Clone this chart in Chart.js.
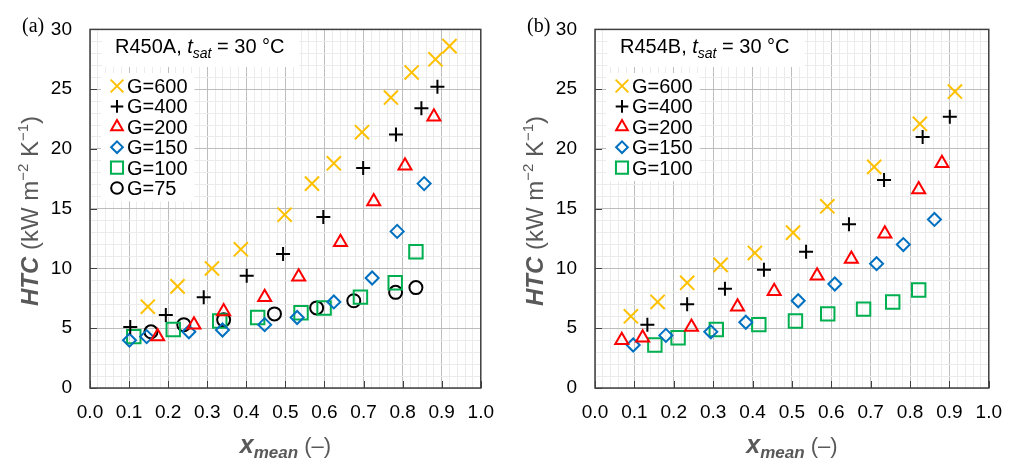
<!DOCTYPE html>
<html>
<head>
<meta charset="utf-8">
<script src="https://cdn.jsdelivr.net/npm/chart.js@4/dist/chart.umd.min.js"></script>
<style>
  body { margin: 0; background: #fff; }
  #wrap { position: relative; width: 1015px; height: 463px; }
  .pane { position: absolute; top: 0; }
</style>
</head>
<body>
<div id="wrap">
  <div class="pane" style="left:0"><canvas id="chartA" width="507" height="463"></canvas></div>
  <div class="pane" style="left:507px"><canvas id="chartB" width="508" height="463"></canvas></div>
</div>
<script>
// (a) R450A
const xA600 = [0.148, 0.224, 0.312, 0.386, 0.498, 0.568, 0.624, 0.696, 0.770, 0.823, 0.884, 0.920];
const yA600 = [6.8, 8.5, 10.0, 11.6, 14.5, 17.1, 18.8, 21.4, 24.3, 26.4, 27.5, 28.6];
const xA400 = [0.103, 0.194, 0.291, 0.401, 0.494, 0.597, 0.699, 0.783, 0.848, 0.889];
const yA400 = [5.1, 6.1, 7.6, 9.4, 11.2, 14.3, 18.4, 21.2, 23.4, 25.2];
const xA200 = [0.173, 0.266, 0.342, 0.447, 0.534, 0.641, 0.726, 0.806, 0.880];
const yA200 = [4.3, 5.3, 6.4, 7.6, 9.3, 12.2, 15.6, 18.6, 22.7];
const xA150 = [0.101, 0.145, 0.253, 0.339, 0.447, 0.530, 0.624, 0.722, 0.786, 0.855];
const yA150 = [4.0, 4.3, 4.7, 4.85, 5.3, 5.9, 7.2, 9.2, 13.1, 17.1];
const xA100 = [0.112, 0.213, 0.332, 0.429, 0.540, 0.599, 0.692, 0.781, 0.834];
const yA100 = [4.3, 4.9, 5.6, 5.9, 6.3, 6.7, 7.6, 8.8, 11.4];
const xA75 = [0.156, 0.240, 0.342, 0.472, 0.580, 0.675, 0.782, 0.834];
const yA75 = [4.7, 5.3, 5.7, 6.2, 6.7, 7.3, 8.0, 8.4];

// (b) R454B
const xB600 = [0.091, 0.159, 0.234, 0.319, 0.406, 0.503, 0.590, 0.709, 0.825, 0.914];
const yB600 = [6.0, 7.2, 8.8, 10.3, 11.3, 13.0, 15.2, 18.5, 22.1, 24.8];
const xB400 = [0.133, 0.234, 0.330, 0.429, 0.536, 0.645, 0.734, 0.832, 0.901];
const yB400 = [5.3, 7.0, 8.3, 9.9, 11.4, 13.7, 17.4, 21.0, 22.7];
const xB200 = [0.068, 0.121, 0.245, 0.362, 0.455, 0.564, 0.651, 0.736, 0.822, 0.881];
const yB200 = [4.0, 4.2, 5.1, 6.8, 8.1, 9.4, 10.8, 12.9, 16.6, 18.8];
const xB150 = [0.097, 0.180, 0.294, 0.383, 0.516, 0.609, 0.715, 0.783, 0.862];
const yB150 = [3.6, 4.4, 4.7, 5.5, 7.3, 8.7, 10.4, 12.0, 14.1];
const xB100 = [0.152, 0.211, 0.308, 0.416, 0.509, 0.591, 0.682, 0.756, 0.822];
const yB100 = [3.6, 4.2, 4.9, 5.3, 5.6, 6.2, 6.6, 7.2, 8.2];

const xTicks = [0, 0.1, 0.2, 0.3, 0.4, 0.5, 0.6, 0.7, 0.8, 0.9, 1.0];
const yTicks = [0, 5, 10, 15, 20, 25, 30];

const FONT = '"Liberation Sans", Arial, sans-serif';

// marker styles per mass flux
const styles = {
    'G=600': { pointStyle: 'crossRot', radius: 10, color: '#FFC000' },
    'G=400': { pointStyle: 'cross', radius: 7, color: '#000000' },
    'G=200': { pointStyle: 'triangle', radius: 7.5, color: '#FF0000' },
    'G=150': { pointStyle: 'rectRot', radius: 6.5, color: '#0070C0' },
    'G=100': { pointStyle: 'rect', radius: 9.5, color: '#00B050' },
    'G=75': { pointStyle: 'circle', radius: 6.5, color: '#000000' }
};

function pts(xs, ys) {
    return xs.map((x, i) => ({ x: x, y: ys[i] }));
}

function makeDataset(label, xs, ys) {
    const s = styles[label];
    return {
        label: label,
        data: pts(xs, ys),
        showLine: false,
        pointStyle: s.pointStyle,
        pointRadius: s.radius,
        pointHoverRadius: s.radius,
        pointBorderWidth: 2,
        pointBorderColor: s.color,
        pointBackgroundColor: 'rgba(0,0,0,0)',
        borderColor: s.color,
        backgroundColor: 'rgba(0,0,0,0)'
    };
}

function isOn(v, list) {
    return list.some(t => Math.abs(t - v) < 1e-6);
}

function drawRuns(ctx, runs, x, y, align) {
    let total = 0;
    runs.forEach(r => { ctx.font = r.font; total += ctx.measureText(r.text).width; });
    let cx = align === 'center' ? x - total / 2 : x;
    runs.forEach(r => {
        ctx.font = r.font;
        ctx.fillText(r.text, cx, y + (r.dy || 0));
        cx += ctx.measureText(r.text).width;
    });
    return total;
}

const decor = {
    id: 'decor',
    beforeDatasetsDraw(chart, args, opts) {
        const ctx = chart.ctx;
        const a = chart.chartArea;
        ctx.save();
        // title box
        const titleRuns = [
            { text: opts.fluid + ', ', font: '20px ' + FONT },
            { text: 't', font: 'italic 20px ' + FONT },
            { text: 'sat', font: 'italic 14px ' + FONT, dy: 5 },
            { text: ' = 30 \u00B0C', font: '20px ' + FONT }
        ];
        let tw = 0;
        titleRuns.forEach(r => { ctx.font = r.font; tw += ctx.measureText(r.text).width; });
        ctx.fillStyle = '#ffffff';
        ctx.fillRect(a.left + 12, 28, tw + 28, 39);
        ctx.fillStyle = '#000000';
        ctx.textBaseline = 'alphabetic';
        drawRuns(ctx, titleRuns, a.left + 25, 53, 'left');

        // legend box
        const sets = chart.data.datasets;
        ctx.font = '20px ' + FONT;
        let lw = 0;
        sets.forEach(d => { lw = Math.max(lw, ctx.measureText(d.label).width); });
        ctx.fillStyle = '#ffffff';
        ctx.fillRect(a.left + 11, 73, 27 + lw + 6, sets.length * 20.4 + 6);
        sets.forEach((d, i) => {
            const cy = 86 + i * 20.4;
            ctx.strokeStyle = d.pointBorderColor;
            ctx.fillStyle = 'rgba(0,0,0,0)';
            ctx.lineWidth = 2;
            Chart.helpers.drawPoint(ctx, {
                pointStyle: d.pointStyle,
                radius: d.pointRadius * 0.9,
                rotation: 0,
                borderWidth: 2
            }, a.left + 27, cy);
            ctx.fillStyle = '#000000';
            ctx.font = '20px ' + FONT;
            ctx.fillText(d.label, a.left + 37, cy + 7);
        });
        ctx.restore();
    },
    afterDatasetsDraw(chart, args, opts) {
        const ctx = chart.ctx;
        const a = chart.chartArea;
        const xs = chart.scales.x;
        const ys = chart.scales.y;
        ctx.save();
        // inward major tick marks
        ctx.strokeStyle = '#404040';
        ctx.lineWidth = 1;
        ctx.beginPath();
        xTicks.forEach(v => {
            const px = Math.round(xs.getPixelForValue(v)) + 0.5;
            ctx.moveTo(px, a.bottom);
            ctx.lineTo(px, a.bottom - 7);
        });
        yTicks.forEach(v => {
            const py = Math.round(ys.getPixelForValue(v)) + 0.5;
            ctx.moveTo(a.left, py);
            ctx.lineTo(a.left + 7, py);
        });
        ctx.stroke();
        // plot frame
        ctx.lineWidth = 1.5;
        ctx.strokeStyle = '#404040';
        ctx.strokeRect(a.left, a.top, a.right - a.left, a.bottom - a.top);

        // panel label
        ctx.fillStyle = '#000000';
        ctx.font = '20px "Liberation Serif", "Times New Roman", serif';
        ctx.textBaseline = 'alphabetic';
        ctx.fillText(opts.panel, a.left - 68, 32);

        // x axis title
        ctx.fillStyle = '#595959';
        drawRuns(ctx, [
            { text: 'x', font: 'italic bold 25px ' + FONT },
            { text: 'mean', font: 'italic bold 17px ' + FONT, dy: 5 },
            { text: ' (\u2013)', font: '22px ' + FONT }
        ], (a.left + a.right) / 2, 453, 'center');

        // y axis title
        ctx.translate(a.left - 52, 211);
        ctx.rotate(-Math.PI / 2);
        drawRuns(ctx, [
            { text: 'HTC', font: 'italic bold 24px ' + FONT },
            { text: ' (kW m', font: '24px ' + FONT },
            { text: '\u22122', font: '15px ' + FONT, dy: -10 },
            { text: ' K', font: '24px ' + FONT },
            { text: '\u22121', font: '15px ' + FONT, dy: -10 },
            { text: ')', font: '24px ' + FONT }
        ], 0, 0, 'center');
        ctx.restore();
    }
};

function makeChart(id, panel, fluid, datasets, padLeft, padRight) {
    const ctx = document.getElementById(id);
    return new Chart(ctx, {
        type: 'scatter',
        data: { datasets: datasets },
        plugins: [decor],
        options: {
            responsive: false,
            animation: false,
            events: [],
            layout: { padding: { left: padLeft, right: padRight, top: 19, bottom: 35 } },
            plugins: {
                legend: { display: false },
                tooltip: { enabled: false },
                decor: { panel: panel, fluid: fluid }
            },
            scales: {
                x: {
                    type: 'linear',
                    min: 0,
                    max: 1,
                    afterFit: s => { s.height = 40; },
                    border: { display: false },
                    grid: {
                        drawTicks: false,
                        color: c => (c.tick && isOn(c.tick.value, xTicks)) ? '#bdbdbd' : '#ebebeb',
                        lineWidth: 1
                    },
                    ticks: {
                        stepSize: 0.02,
                        autoSkip: false,
                        maxRotation: 0,
                        padding: 13,
                        color: '#000000',
                        font: { family: FONT, size: 19 },
                        callback: v => isOn(v, xTicks) ? v.toFixed(1) : ''
                    }
                },
                y: {
                    type: 'linear',
                    min: 0,
                    max: 30,
                    afterFit: s => { s.width = 40; },
                    border: { display: false },
                    grid: {
                        drawTicks: false,
                        color: c => (c.tick && isOn(c.tick.value, yTicks)) ? '#bdbdbd' : '#ebebeb',
                        lineWidth: 1
                    },
                    ticks: {
                        stepSize: 1,
                        autoSkip: false,
                        padding: 18,
                        color: '#000000',
                        font: { family: FONT, size: 19 },
                        callback: v => isOn(v, yTicks) ? String(v) : ''
                    }
                }
            }
        }
    });
}

makeChart('chartA', '(a)', 'R450A', [
    makeDataset('G=600', xA600, yA600),
    makeDataset('G=400', xA400, yA400),
    makeDataset('G=200', xA200, yA200),
    makeDataset('G=150', xA150, yA150),
    makeDataset('G=100', xA100, yA100),
    makeDataset('G=75', xA75, yA75)
], 50, 22);

makeChart('chartB', '(b)', 'R454B', [
    makeDataset('G=600', xB600, yB600),
    makeDataset('G=400', xB400, yB400),
    makeDataset('G=200', xB200, yB200),
    makeDataset('G=150', xB150, yB150),
    makeDataset('G=100', xB100, yB100)
], 48, 26);
</script>
</body>
</html>
